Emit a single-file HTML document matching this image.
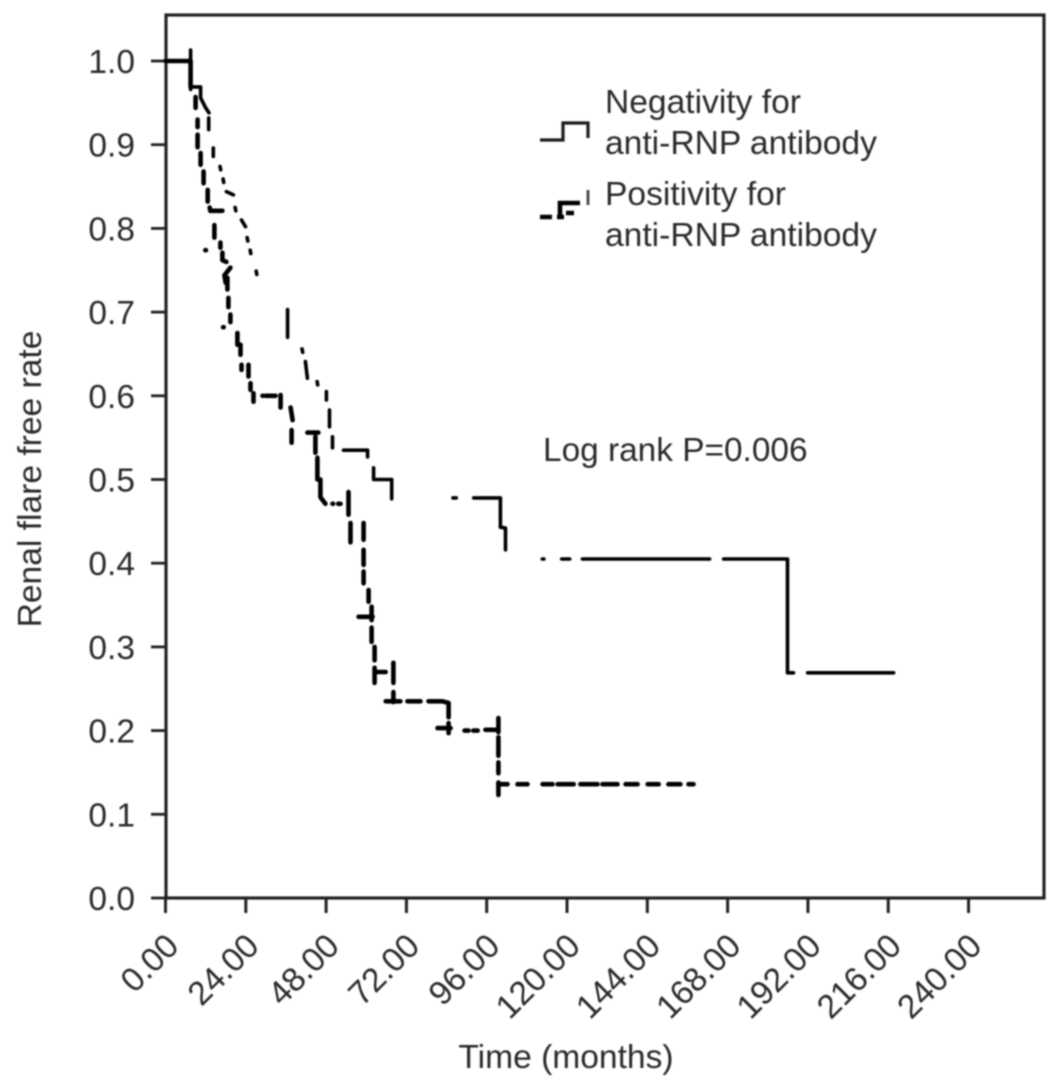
<!DOCTYPE html>
<html lang="en">
<head>
<meta charset="utf-8">
<title>Renal flare free rate</title>
<style>
html,body{margin:0;padding:0;background:#fff;}
svg{display:block;}
text{font-family:"Liberation Sans",sans-serif;fill:#2a2a2a;}
</style>
</head>
<body>
<svg id="chart" xmlns="http://www.w3.org/2000/svg" width="1063" height="1091" viewBox="0 0 1063 1091">
<defs><filter id="soft" x="-5%" y="-5%" width="110%" height="110%"><feGaussianBlur stdDeviation="0.75"/></filter></defs>
<rect width="1063" height="1091" fill="#fff"/>
<g id="root" filter="url(#soft)">
<rect x="166" y="15" width="878" height="883" fill="none" stroke="#222" stroke-width="3.2"/>
<g id="axes"></g>
<g id="series"></g>
<g>
<path d="M540 140H563V123H588V138" fill="none" stroke="#1a1a1a" stroke-width="3.2"/>
<path d="M540 217H552M557 217H564M560 217V203H580M566 213H574" fill="none" stroke="#000" stroke-width="4.6"/>
<path d="M588 190V205" fill="none" stroke="#444" stroke-width="2.8"/>
<text x="605" y="113" font-size="33.6">Negativity for</text>
<text x="605" y="154" font-size="33.6">anti-RNP antibody</text>
<text x="605" y="205" font-size="33.6">Positivity for</text>
<text x="605" y="246" font-size="33.6">anti-RNP antibody</text>
</g>
<text x="543" y="461" font-size="33.4">Log rank P=0.006</text>
<text transform="translate(41 479) rotate(-90)" text-anchor="middle" font-size="33.6">Renal flare free rate</text>
<text x="566" y="1068" text-anchor="middle" font-size="33.6">Time (months)</text>
</g>
</svg>
<script>
const xTicks = [0, 24, 48, 72, 96, 120, 144, 168, 192, 216, 240];
const xTickLabels = ["0.00", "24.00", "48.00", "72.00", "96.00", "120.00", "144.00", "168.00", "192.00", "216.00", "240.00"];
const yTicks = [0, 0.1, 0.2, 0.3, 0.4, 0.5, 0.6, 0.7, 0.8, 0.9, 1.0];
const yTickLabels = ["0.0", "0.1", "0.2", "0.3", "0.4", "0.5", "0.6", "0.7", "0.8", "0.9", "1.0"];

/* Curves as printed: null marks a gap in the broken reference line */
const negativeTimes = [
  7.5,7.5,null, 7.5,10.5,10.5,12,13,null, 12.9,12.9,null, 14.3,14.3,null, 16.3,16.5,null, 17.2,17.4,null,
  18.2,20.3,null, 20.8,21,null, 22.7,23.9,null, 24.4,24.6,null, 25.3,25.5,null, 27.1,27.3,null,
  36.5,36.5,null, 40.8,41,null, 41.8,42.4,null, 45.3,45.5,null, 48.1,48.1,null, 49,49,null, 49.9,49.9,null,
  53.2,60.4,60.4,null, 62.2,62.2,67.6,67.6,null, 85.9,86.9,null, 92.1,100.1,100.1,101.6,101.6,null,
  112.6,113.1,null, 118.4,120.8,null, 124.6,162.6,null, 166.8,185.9,185.9,187.7,null, 191.9,217.6
];
const negativeRates = [
  1.013,0.966,null, 0.969,0.969,0.956,0.944,0.938,null, 0.932,0.918,null, 0.896,0.886,null, 0.874,0.87,null, 0.859,0.855,null,
  0.844,0.84,null, 0.825,0.821,null, 0.81,0.802,null, 0.789,0.785,null, 0.774,0.77,null, 0.749,0.745,null,
  0.703,0.67,null, 0.656,0.652,null, 0.641,0.621,null, 0.617,0.613,null, 0.605,0.595,null, 0.583,0.563,null, 0.551,0.538,null,
  0.535,0.535,0.527,null, 0.514,0.5,0.5,0.477,null, 0.478,0.478,null, 0.478,0.478,0.443,0.442,0.416,null,
  0.405,0.405,null, 0.405,0.405,null, 0.405,0.405,null, 0.405,0.405,0.269,0.269,null, 0.269,0.269
];
const positiveTimes = [
  0,7.5,7.5,null, 9,9,null, 9.6,9.6,null, 9.6,9.6,null, 10.5,10.5,null, 11.4,11.4,null, 12.6,12.6,null,
  13.2,13.4,17,null, 14.6,14.6,null, 11.9,12.1,null, 16.4,16.4,null, 17,17,18.2,null, 19.4,17.6,18,null,
  18.5,18.5,null, 18.8,18.8,null, 19.4,19.4,null, 17.2,17.4,null, 21.5,21.5,null, 22.4,22.4,null, 22.7,22.7,null,
  24.8,24.8,null, 25.4,25.4,null, 26.3,26.3,null, 29,29.2,null, 30,32.9,null, 34.4,34.4,null, 37.4,38,null,
  37.7,37.7,null, 42.4,45.7,null, 44.8,44.8,null, 45.4,45.4,null, 46.3,46.3,47.8,null, 49.9,50.1,null, 51.6,52.3,null,
  54.7,54.7,null, 55.3,55.3,null, 59.2,59.2,null, 59.2,59.2,null, 59.2,59.2,null, 60.7,60.7,null, 61.6,61.6,null,
  57.7,61.9,null, 61.6,61.6,null, 62.5,62.5,null, 62.5,62.5,null, 62.5,65.8,null, 68.1,68.1,null, 68.1,68.1,null,
  65.8,70.2,null, 72.3,76.2,null, 78.6,82.8,84.6,null, 84.6,84.6,null, 84.6,84.6,null, 81.3,85.2,null,
  89.4,90.6,null, 92,93.3,null, 95.6,99.5,null, 99.5,99.5,null, 99.5,99.5,null, 99.5,99.5,null, 99.5,99.5,null,
  99.5,102.2,null, 105.2,108.2,null, 112.7,115.7,null, 117.2,122,null, 124,129.1,null, 130.6,135.1,null,
  137.5,141.1,null, 144.1,147.4,null, 150.3,153.9,null, 156.3,157.8
];
const positiveRates = [
  1,1,0.969,null, 0.957,0.944,null, 0.93,0.921,null, 0.912,0.897,null, 0.89,0.876,null, 0.868,0.854,null, 0.846,0.832,null,
  0.825,0.821,0.821,null, 0.804,0.789,null, 0.774,0.774,null, 0.783,0.777,null, 0.771,0.762,0.76,null, 0.753,0.744,0.735,null,
  0.741,0.727,null, 0.717,0.706,null, 0.697,0.688,null, 0.682,0.682,null, 0.675,0.661,null, 0.661,0.649,null, 0.637,0.631,null,
  0.637,0.623,null, 0.615,0.607,null, 0.603,0.593,null, 0.6,0.6,null, 0.6,0.6,null, 0.601,0.586,null, 0.586,0.571,null,
  0.559,0.544,null, 0.556,0.556,null, 0.551,0.532,null, 0.526,0.5,null, 0.5,0.479,0.471,null, 0.471,0.471,null, 0.471,0.471,null,
  0.485,0.458,null, 0.448,0.425,null, 0.448,0.428,null, 0.416,0.398,null, 0.39,0.376,null, 0.368,0.354,null, 0.348,0.332,null,
  0.336,0.336,null, 0.323,0.306,null, 0.3,0.284,null, 0.275,0.257,null, 0.27,0.27,null, 0.281,0.257,null, 0.246,0.234,null,
  0.235,0.235,null, 0.235,0.235,null, 0.235,0.235,0.233,null, 0.233,0.216,null, 0.209,0.197,null, 0.203,0.203,null,
  0.2,0.2,null, 0.2,0.2,null, 0.201,0.201,null, 0.215,0.198,null, 0.192,0.17,null, 0.162,0.149,null, 0.138,0.123,null,
  0.136,0.136,null, 0.136,0.136,null, 0.136,0.136,null, 0.136,0.136,null, 0.136,0.136,null, 0.136,0.136,null,
  0.136,0.136,null, 0.136,0.136,null, 0.136,0.136,null, 0.136,0.136
];

const SVG_NS = 'http://www.w3.org/2000/svg';
const xScale = t => 165.5 + t * 3.346;
const yScale = s => 898 - s * 837;
const axes = document.getElementById('axes');
const seriesGroup = document.getElementById('series');

function make(tag, parent, attrs) {
  const el = document.createElementNS(SVG_NS, tag);
  for (const k in attrs) el.setAttribute(k, attrs[k]);
  parent.appendChild(el);
  return el;
}

xTicks.forEach((t, i) => {
  const tick = make('line', axes, {x1: xScale(t), x2: xScale(t), y1: 898, y2: 913, stroke: '#222', 'stroke-width': 3});
  
  
  const label = make('text', axes, {'text-anchor': 'end', 'font-size': 33.5,
    transform: 'translate(' + (xScale(t) + 15) + ' 948) rotate(-45)'});
  label.textContent = xTickLabels[i];
  
  
});

yTicks.forEach((s, i) => {
  const tick = make('line', axes, {x1: 151, x2: 166, y1: yScale(s), y2: yScale(s), stroke: '#222', 'stroke-width': 2.8});
  
  
  const label = make('text', axes, {x: 135, y: yScale(s) + 12, 'text-anchor': 'end', 'font-size': 33.5});
  label.textContent = yTickLabels[i];
  
  
});

function buildPath(times, rates) {
  let d = '';
  let pen = false;
  times.forEach((t, i) => {
    if (t === null || rates[i] === null) { pen = false; return; }
    d += (pen ? 'L' : 'M') + xScale(t).toFixed(1) + ' ' + yScale(rates[i]).toFixed(1);
    pen = true;
  });
  return d;
}

const negativePath = make('path', seriesGroup, {d: buildPath(negativeTimes, negativeRates), fill: 'none', stroke: '#000',
  'stroke-width': 3.6, 'stroke-linecap': 'round', 'stroke-linejoin': 'round'});



const positivePath = make('path', seriesGroup, {d: buildPath(positiveTimes, positiveRates), fill: 'none', stroke: '#000',
  'stroke-width': 4.6, 'stroke-linecap': 'round', 'stroke-linejoin': 'round'});


</script>
</body>
</html>
